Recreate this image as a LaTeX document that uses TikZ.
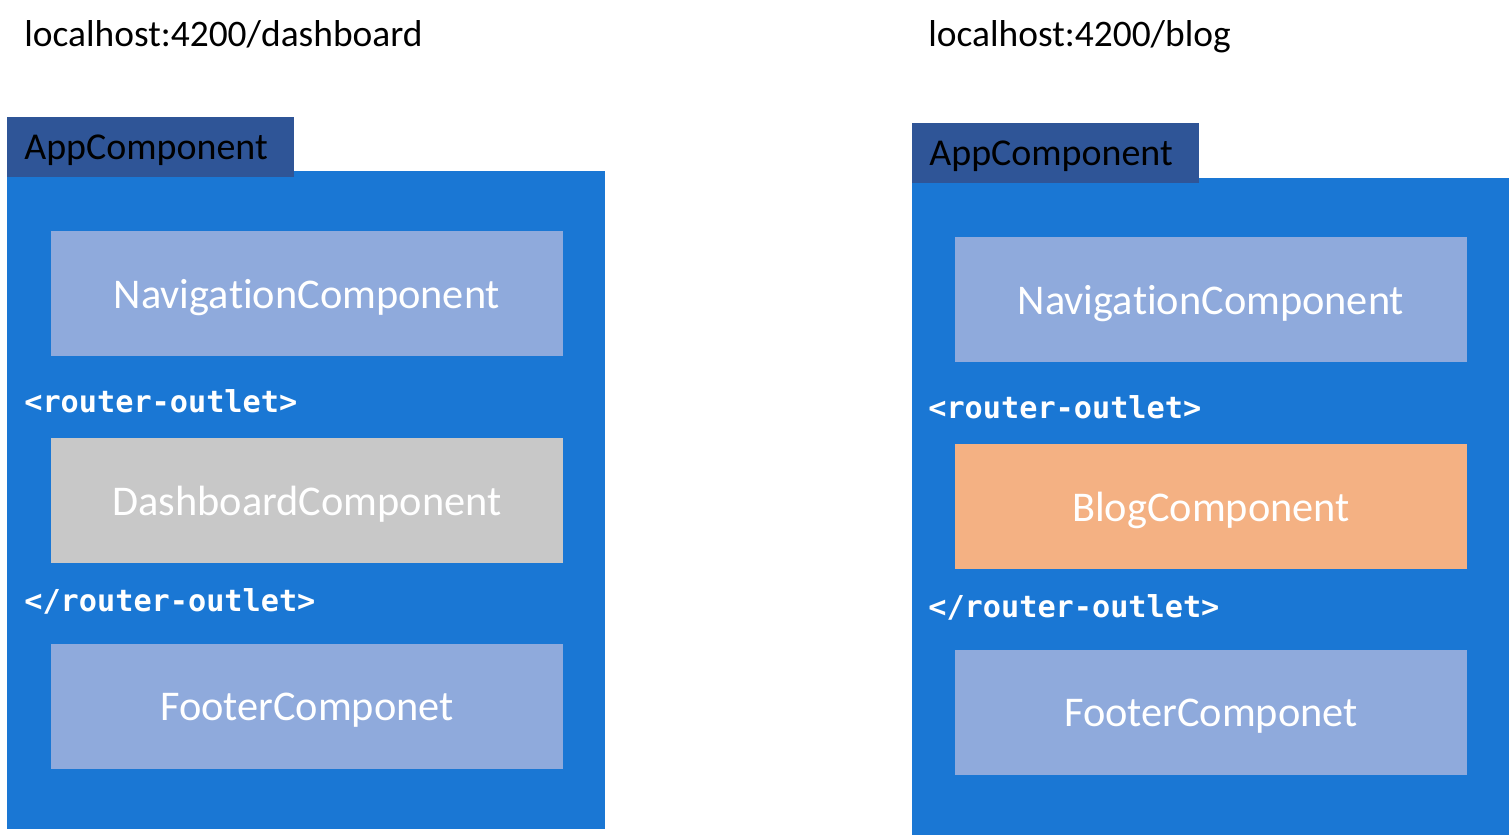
\documentclass[tikz,border=0pt]{standalone}
\usepackage{fontspec}
\setmainfont{Carlito}[Ligatures=NoCommon]
\setmonofont{DejaVu Sans Mono}
\usepackage{xcolor}
\usepackage{tikz}
\usetikzlibrary{positioning}
\definecolor{appBlue}{HTML}{1A77D4}
\definecolor{tabBlue}{HTML}{2F5597}
\definecolor{partBlue}{HTML}{8FAADC}
\definecolor{dashGrey}{HTML}{C8C8C8}
\definecolor{blogOrange}{HTML}{F4B183}
\tikzset{
  appbox/.style={rectangle, fill=appBlue, minimum width=11.96cm, minimum height=13.16cm, inner sep=0pt},
  apptab/.style={rectangle, fill=tabBlue, anchor=west, text width=5.06cm, align=left, inner xsep=0.34cm, inner ysep=0pt, minimum height=1.2cm, text depth=0pt, font=\fontsize{21.6}{26}\selectfont, text=black},
  partbox/.style={rectangle, fill=#1, minimum width=10.24cm, minimum height=2.5cm, inner sep=0pt, text depth=0pt, font=\fontsize{24.1}{29}\selectfont, text=white},
  outlet/.style={anchor=west, inner sep=0pt, font=\ttfamily\bfseries\fontsize{17.2}{20}\selectfont, text=white},
  urltext/.style={anchor=west, inner sep=0pt, text depth=0pt, font=\fontsize{21.3}{25}\selectfont, text=black},
}
\begin{document}
\begin{tikzpicture}[x=0.02cm,y=-0.02cm]
  \useasboundingbox (0,0) rectangle (1509,836);
  % --- dashboard route ---
  \node[urltext] (urlA) at (24,34) {localhost:4200/dashboard};
  \node[appbox] (appA) at (306,500) {};
  \node[apptab] (tabA) at (7,147) {AppComponent};
  \node[partbox=partBlue] (navA) at (307,293.5) {Naviga\kern0pt tionComponent};
  \node[outlet] (openA) at (24,401) {<router-outlet>};
  \node[partbox=dashGrey] (dash) at (307,500.5) {DashboardComponent};
  \node[outlet] (closeA) at (24,601) {</router-outlet>};
  \node[partbox=partBlue] (footA) at (307,706.5) {FooterComponet};
  % --- blog route ---
  \node[urltext] (urlB) at (928,34) {localhost:4200/blog};
  \node[appbox] (appB) at (1210.5,506.5) {};
  \node[apptab] (tabB) at (912,153) {AppComponent};
  \node[partbox=partBlue] (navB) at (1211,299.5) {Naviga\kern0pt tionComponent};
  \node[outlet] (openB) at (928,407) {<router-outlet>};
  \node[partbox=blogOrange] (blog) at (1211,506.5) {BlogComponent};
  \node[outlet] (closeB) at (928,607) {</router-outlet>};
  \node[partbox=partBlue] (footB) at (1211,712.5) {FooterComponet};
\end{tikzpicture}
\end{document}
